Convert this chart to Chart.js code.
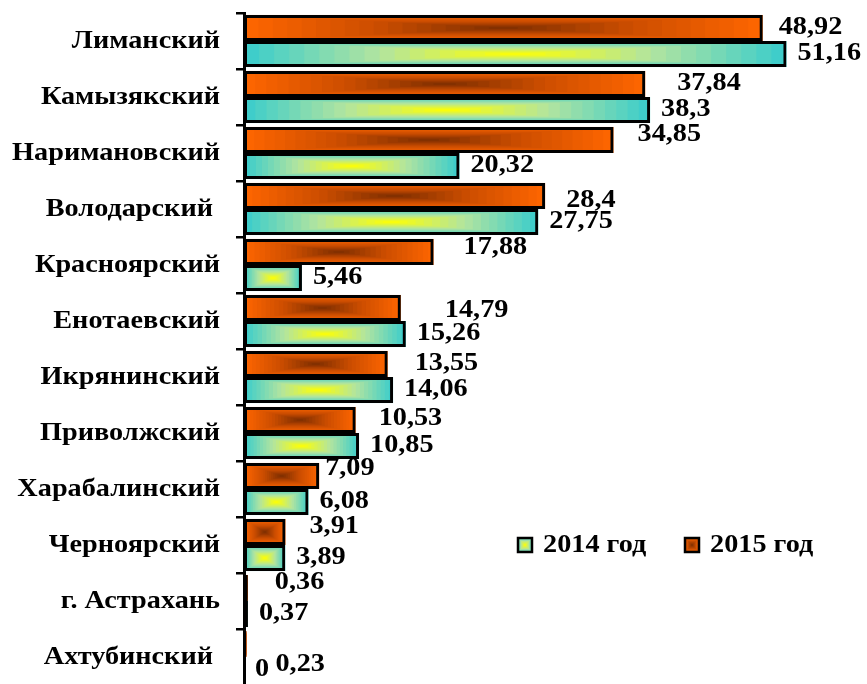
<!DOCTYPE html>
<html lang="ru">
<head>
<meta charset="utf-8">
<title>Районы 2014–2015</title>
<script src="https://cdn.jsdelivr.net/npm/chart.js@4.4.1/dist/chart.umd.min.js"></script>
<style>
  html, body { margin: 0; padding: 0; background: #fff; overflow: hidden; }
  #wrap { position: relative; width: 867px; height: 685px; }
  .probe { font: bold 25px "Liberation Serif"; position: absolute; left: -999px; }
</style>
</head>
<body>
<span class="probe">Лиманский 0,123456789</span>
<div id="wrap"><canvas id="chart"></canvas></div>
<script>
// ---- данные ----
const categories = [
  "Лиманский", "Камызякский", "Наримановский", "Володарский ", "Красноярский", "Енотаевский",
  "Икрянинский", "Приволжский", "Харабалинский", "Черноярский", "г. Астрахань", "Ахтубинский "
];
const values2015 = [48.92, 37.84, 34.85, 28.4, 17.88, 14.79, 13.55, 10.53, 7.09, 3.91, 0.36, 0.23];
const values2014 = [51.16, 38.3, 20.32, 27.75, 5.46, 15.26, 14.06, 10.85, 6.08, 3.89, 0.37, 0];
const legendNames = ["2014 год", "2015 год"];

// подписи 2015 года в оригинале сдвинуты вручную (px от конца столбца)
const label2015Dx = [16, 32, 24, 21, 30, 44, 27, 23, 6, 24, 27, 29];
const label2015Dy = [0, 0, -5, 5, -4, 3, 0, -1, -7, -5, -5, 21];

const FONT = 'bold 25px "Liberation Serif"';
const STRETCH = 1.13;

// градиент: край -> середина -> центр
const ORANGE = [[255, 102, 0], [205, 78, 0], [125, 46, 0]];
const CYAN = [[56, 204, 204], [178, 228, 160], [255, 255, 0]];

const fmt = (v) => String(v).replace(".", ",");

function mix(stops, t) {
  const [a, b, u] = t < 0.5 ? [stops[0], stops[1], t * 2] : [stops[1], stops[2], (t - 0.5) * 2];
  return `rgb(${a.map((c, i) => Math.round(c + (b[i] - c) * u)).join(",")})`;
}

// прямоугольный градиент "от центра", как в Excel
function boxGradient(ctx, x, y, w, h, pal, steps = 18) {
  for (let i = 0; i < steps; i++) {
    const t = i / steps;
    const dx = t * w / 2, dy = t * h / 2;
    ctx.fillStyle = mix(pal, (i + 0.5) / steps);
    ctx.fillRect(x + dx, y + dy, w - 2 * dx, h - 2 * dy);
  }
}

function stretchedText(ctx, text, x, y, align) {
  ctx.save();
  ctx.translate(x, y);
  ctx.scale(STRETCH, 1);
  ctx.font = FONT;
  ctx.fillStyle = "#000";
  ctx.textAlign = align;
  ctx.textBaseline = "middle";
  ctx.fillText(text, 0, 0);
  ctx.restore();
}

const palettes = [ORANGE, CYAN];

const barFill = {
  id: "barFill",
  beforeDatasetsDraw(chart) {
    const ctx = chart.ctx;
    chart.data.datasets.forEach((ds, di) => {
      chart.getDatasetMeta(di).data.forEach((bar) => {
        const { x, y, base, height } = bar.getProps(["x", "y", "base", "height"], true);
        const w = Math.abs(x - base);
        if (w < 0.5) return;
        boxGradient(ctx, Math.min(x, base), y - height / 2, w, height, palettes[di]);
      });
    });
  }
};

const textLayer = {
  id: "textLayer",
  afterDraw(chart) {
    const ctx = chart.ctx;
    const yScale = chart.scales.y;

    // названия районов
    categories.forEach((c, i) => {
      stretchedText(ctx, c, 220, yScale.getPixelForValue(i) + 1, "right");
    });

    // значения
    chart.getDatasetMeta(0).data.forEach((bar, i) => {
      stretchedText(ctx, fmt(values2015[i]), bar.x + label2015Dx[i], bar.y + label2015Dy[i], "left");
    });
    chart.getDatasetMeta(1).data.forEach((bar, i) => {
      stretchedText(ctx, fmt(values2014[i]), bar.x + 11, bar.y, "left");
    });

    // легенда
    const items = [{ x: 517, pal: CYAN }, { x: 684, pal: ORANGE }];
    items.forEach((it, i) => {
      const top = 537, size = 16;
      boxGradient(ctx, it.x, top, size, size, it.pal, 6);
      ctx.strokeStyle = "#000";
      ctx.lineWidth = 2.5;
      ctx.strokeRect(it.x + 1, top + 1, size - 2, size - 2);
      stretchedText(ctx, legendNames[i], it.x + 26, top + 9, "left");
    });
  }
};

const barStyle = {
  backgroundColor: "rgba(0,0,0,0)",
  borderColor: "#000",
  borderWidth: 3,
  borderSkipped: false,
  categoryPercentage: 0.93,
  barPercentage: 1.0
};

function draw() {
  new Chart(document.getElementById("chart"), {
    type: "bar",
    data: {
      labels: categories,
      datasets: [
        { label: "2015 год", data: values2015, ...barStyle },
        { label: "2014 год", data: values2014, ...barStyle }
      ]
    },
    options: {
      indexAxis: "y",
      responsive: true,
      maintainAspectRatio: false,
      animation: false,
      layout: { padding: { top: 13, right: 8, bottom: 0, left: 0 } },
      plugins: { legend: { display: false }, tooltip: { enabled: false }, colors: { enabled: false } },
      scales: {
        x: { display: false, min: 0, max: 58 },
        y: {
          position: "left",
          offset: true,
          afterFit: (scale) => { scale.width = 244; },
          ticks: { display: false },
          grid: {
            offset: true,
            drawOnChartArea: false,
            drawTicks: true,
            tickLength: 8,
            color: "#000",
            lineWidth: 2.5
          },
          border: { display: true, color: "#000", width: 3 }
        }
      }
    },
    plugins: [barFill, textLayer]
  });
}

document.fonts.load(FONT, "Лиманский 0,123").then(draw, draw);
</script>
</body>
</html>
